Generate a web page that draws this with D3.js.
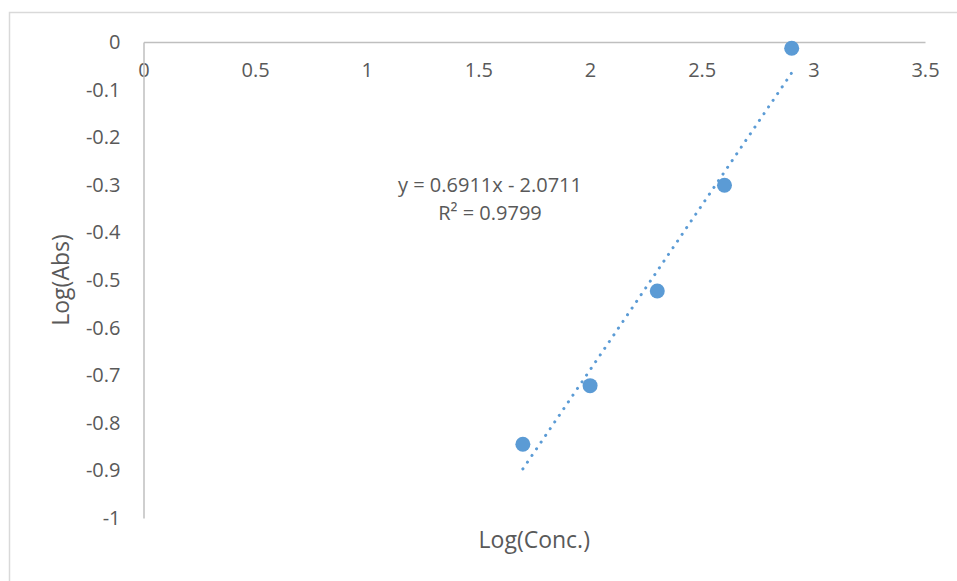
<!DOCTYPE html>
<html>
<head>
<meta charset="utf-8">
<script src="https://cdn.jsdelivr.net/npm/d3@7"></script>
<style>
  body { margin: 0; background: #fff; }
  text { font-family: "Open Sans", Lato, sans-serif; fill: #595959; }
</style>
</head>
<body>
<div id="chart"></div>
<script>
// measured points: log(concentration) vs log(absorbance)
var logConc = [1.699, 2.0, 2.301, 2.602, 2.903];
var logAbs = [-0.845, -0.722, -0.523, -0.301, -0.013];
var slope = 0.6911, intercept = -2.0711;
var xTicks = [0, 0.5, 1, 1.5, 2, 2.5, 3, 3.5];
var yTicks = [0, -0.1, -0.2, -0.3, -0.4, -0.5, -0.6, -0.7, -0.8, -0.9, -1];

var width = 957, height = 581;
var plot = { left: 143.5, right: 925, top: 42, bottom: 518 };

var svg = d3.select("#chart").append("svg")
    .attr("width", width)
    .attr("height", height);

// chart frame
svg.append("rect")
    .attr("x", 9.5).attr("y", 12.5)
    .attr("width", width + 10).attr("height", height + 10)
    .attr("fill", "none")
    .attr("stroke", "#d9d9d9")
    .attr("stroke-width", 1.5);

var x = d3.scaleLinear().domain([0, 3.5]).range([plot.left, plot.right]);
var y = d3.scaleLinear().domain([-1, 0]).range([plot.bottom, plot.top]);

// axes cross at y = 0 (top) and x = 0 (left)
var xAxis = d3.axisBottom(x).tickValues(xTicks).tickSize(0).tickPadding(21)
    .tickFormat(function(d) { return String(d); });
var gx = svg.append("g").attr("transform", "translate(0," + y(0) + ")").call(xAxis);

var yAxis = d3.axisLeft(y).tickValues(yTicks).tickSize(0).tickPadding(23)
    .tickFormat(function(d) { return d === 0 ? "0" : String(d); });
var gy = svg.append("g").attr("transform", "translate(" + x(0) + ",0)").call(yAxis);

[gx, gy].forEach(function(g) {
  g.select(".domain").attr("stroke", "#bfbfbf").attr("stroke-width", 1.5);
  g.selectAll("text").style("font-size", "20px").attr("fill", "#595959")
      .style("font-family", "'Open Sans', Lato, sans-serif");
});

// trendline
var xMin = d3.min(logConc), xMax = d3.max(logConc);
svg.append("line")
    .attr("x1", x(xMin)).attr("y1", y(slope * xMin + intercept))
    .attr("x2", x(xMax)).attr("y2", y(slope * xMax + intercept))
    .attr("stroke", "#5b9bd5")
    .attr("stroke-width", 3)
    .attr("stroke-linecap", "round")
    .attr("stroke-dasharray", "0.1 8");

// points
svg.selectAll(".pt")
    .data(logConc)
    .enter().append("circle")
    .attr("class", "pt")
    .attr("cx", function(d) { return x(d); })
    .attr("cy", function(d, i) { return y(logAbs[i]); })
    .attr("r", 7.5)
    .attr("fill", "#5b9bd5");

// equation label
var eq = svg.append("text")
    .attr("x", 490).attr("y", 192)
    .attr("text-anchor", "middle")
    .style("font-size", "20px");
eq.append("tspan").attr("x", 490).text("y = " + slope + "x - " + Math.abs(intercept));
eq.append("tspan").attr("x", 490).attr("dy", 28).text("R² = 0.9799");

// axis titles
svg.append("text")
    .attr("x", (plot.left + plot.right) / 2).attr("y", 548)
    .attr("text-anchor", "middle")
    .style("font-size", "23px")
    .text("Log(Conc.)");

svg.append("text")
    .attr("transform", "translate(69," + (plot.top + plot.bottom) / 2 + ") rotate(-90)")
    .attr("text-anchor", "middle")
    .style("font-size", "23px")
    .text("Log(Abs)");
</script>
</body>
</html>
